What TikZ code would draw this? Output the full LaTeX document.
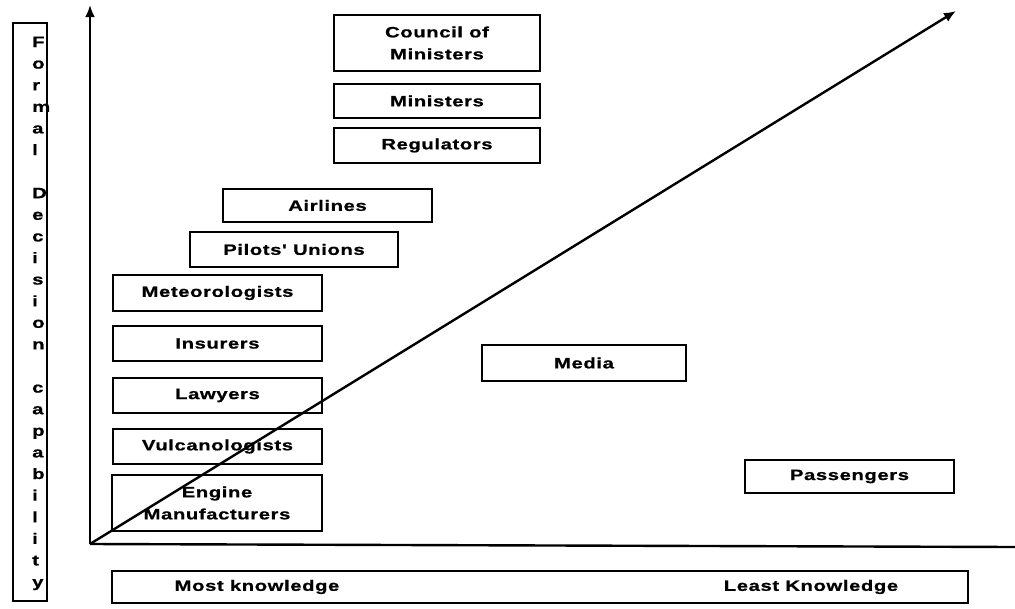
\documentclass[tikz,border=0pt]{standalone}
\usepackage{fontspec}
\usetikzlibrary{arrows.meta}
\newfontfamily\labfont{Liberation Sans}[FakeStretch=1.35,LetterSpace=4,FakeBold=0.8]
\tikzset{
  lab/.style={font=\labfont\bfseries\fontsize{15}{22}\selectfont, text=black},
  box/.style={lab, draw=black, line width=1.8pt, inner sep=0pt, align=center},
  axis/.style={draw=black, line width=2.4pt},
  tip/.style={-{Latex[length=12pt,width=10pt]}}
}
\begin{document}
\begin{tikzpicture}[x=1pt,y=-1pt]
\useasboundingbox (0,0) rectangle (1015,608);

% vertical caption
\node[box, minimum width=34pt, minimum height=578pt] (caption) at (30,312) {};
\foreach \ch [count=\i from 0] in {F,o,r,m,a,l,{},D,e,c,i,s,i,o,n,{},c,a,p,a,b,i,l,i,t,y}
  \node[lab, anchor=base west, inner sep=0pt] (letter\i) at (32,47+\i*21.6) {\ch};

% actors
\node[box, minimum width=206pt, minimum height=56pt] (council) at (437,43) {Council of\\Ministers};
\node[box, minimum width=206pt, minimum height=34pt] (ministers) at (437,101) {Ministers};
\node[box, minimum width=206pt, minimum height=35pt] (regulators) at (437,145.5) {Regulators};
\node[box, minimum width=209pt, minimum height=33pt] (airlines) at (327.5,205.5) {Airlines};
\node[box, minimum width=208pt, minimum height=35pt] (pilots) at (294,249.5) {Pilots' Unions};
\node[box, minimum width=209pt, minimum height=36pt] (meteo) at (217.5,293) {Meteorologists};
\node[box, minimum width=209pt, minimum height=35pt] (insurers) at (217.5,343.5) {Insurers};
\node[box, minimum width=209pt, minimum height=35pt] (lawyers) at (217.5,395.5) {Lawyers};
\node[box, minimum width=209pt, minimum height=35pt] (vulcano) at (217.5,446.5) {Vulcanologists};
\node[box, minimum width=210pt, minimum height=56pt] (engine) at (217,503) {Engine\\Manufacturers};
\node[box, minimum width=204pt, minimum height=36pt] (media) at (584,363) {Media};
\node[box, minimum width=209pt, minimum height=33pt] (passengers) at (849.5,476.5) {Passengers};

% knowledge scale
\node[box, minimum width=856pt, minimum height=32pt] (scale) at (540,587) {};
\node[lab] (most) at (257,587) {Most knowledge};
\node[lab] (least) at (811,587) {Least Knowledge};

% axes
\coordinate (origin) at (90,544);
\coordinate (ytop) at (90,5);
\coordinate (xend) at (1015,547);
\coordinate (diag) at (956,11);
\draw[axis] (origin) -- (xend);
\draw[axis, tip] (origin) -- (ytop);
\draw[axis, tip] (origin) -- (diag);
\end{tikzpicture}
\end{document}
